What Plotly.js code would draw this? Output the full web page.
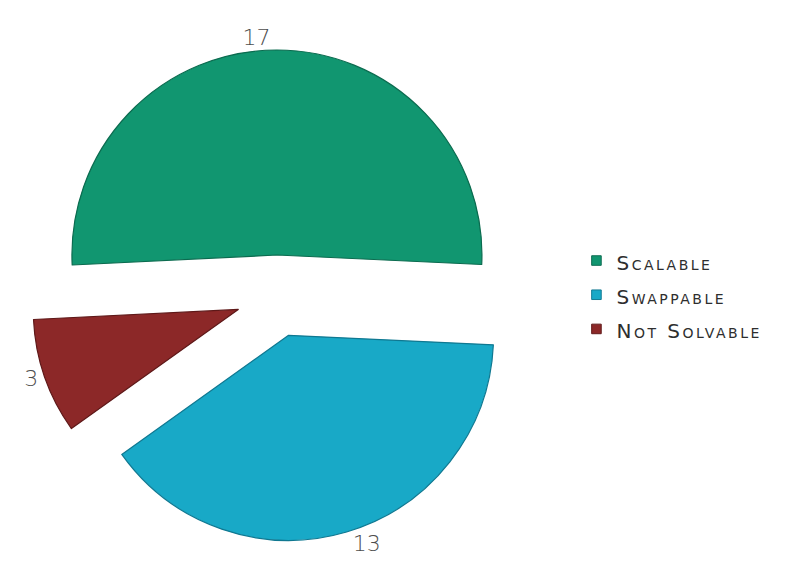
<!DOCTYPE html>
<html>
<head>
<meta charset="utf-8">
<script src="https://cdn.plot.ly/plotly-3.0.1.min.js"></script>
<style>
html,body{margin:0;padding:0;background:#fff;}
#chart{width:794px;height:565px;}
.legendtext{font-size:20px !important;letter-spacing:2.5px;}
#chart .legendpoints path{transform:translate(20px,0) scale(0.8);}
</style>
</head>
<body>
<div id="chart"></div>
<script>
var categories = ["Scalable", "Swappable", "Not Solvable"];
var counts = [17, 13, 3];
var sliceColors = ["#119670", "#18a9c7", "#8c2828"];
var edgeColors = ["#0b6b4f", "#0f7891", "#5e1818"];

var trace = {
  type: "pie",
  labels: categories,
  values: counts,
  sort: false,
  direction: "clockwise",
  rotation: 267.2,
  pull: [0.2, 0.2, 0.2],
  textinfo: "value",
  textposition: "outside",
  textfont: {family: "DejaVu Sans", size: 22, color: "#4d4d4d", weight: 300},
  marker: {colors: sliceColors, line: {color: edgeColors, width: 1.2}},
  domain: {x: [0.039, 0.6587], y: [0.0407, 0.9115]},
  hoverinfo: "label+value"
};

var layout = {
  width: 794,
  height: 565,
  margin: {l: 0, r: 0, t: 0, b: 0},
  paper_bgcolor: "#ffffff",
  showlegend: true,
  legend: {
    x: 0.726, y: 0.478, xanchor: "left", yanchor: "middle",
    font: {family: "DejaVu Sans", size: 24, color: "#2e2e2e", variant: "small-caps"}
  }
};

Plotly.newPlot("chart", [trace], layout, {staticPlot: true});
</script>
</body>
</html>
